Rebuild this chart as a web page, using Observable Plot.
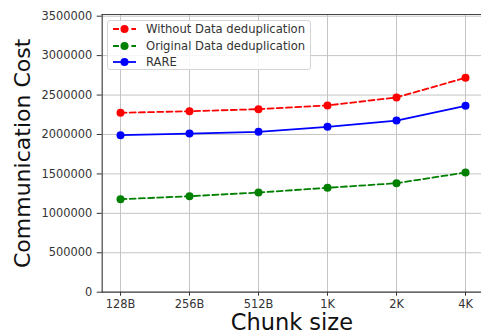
<!DOCTYPE html>
<html>
<head>
<meta charset="utf-8">
<script src="https://cdn.jsdelivr.net/npm/d3@7"></script>
<script src="https://cdn.jsdelivr.net/npm/@observablehq/plot@0.6"></script>
<style>
  html, body { margin: 0; padding: 0; background: #fff; }
  #wrap { position: relative; width: 481px; height: 334px; font-family: "DejaVu Sans", sans-serif; }
  #legend { position: absolute; left: 107px; top: 20px; width: 204px; height: 50px;
    background: rgba(255,255,255,0.85); border: 1px solid #d4d4d4; border-radius: 3px; box-sizing: border-box; }
  .row { position: absolute; left: 0; height: 16px; display: flex; align-items: center; }
  .row span { font-size: 11.6px; color: #333; margin-left: 8px; white-space: nowrap; }
</style>
</head>
<body>
<div id="wrap"></div>
<script>
const chunks = ["128B", "256B", "512B", "1K", "2K", "4K"];
const withoutDedup = [2275000, 2295000, 2321000, 2368000, 2470000, 2719000];
const originalDedup = [1179000, 1217000, 1264000, 1324000, 1382000, 1518000];
const rare = [1991000, 2012000, 2034000, 2097000, 2177000, 2364000];
const yTicks = [0, 500000, 1000000, 1500000, 2000000, 2500000, 3000000, 3500000];

const series = [
  {name: "Without Data deduplication", values: withoutDedup, color: "#ff0000", dash: "6,3.2"},
  {name: "Original Data deduplication", values: originalDedup, color: "#008000", dash: "6,3.2"},
  {name: "RARE", values: rare, color: "#0000ff", dash: null}
];

const rows = series.flatMap(s => chunks.map((c, i) => ({chunk: c, value: s.values[i], series: s.name})));

const marks = [
  Plot.gridX(chunks, {stroke: "#c4c4c4", strokeOpacity: 1, strokeWidth: 1}),
  Plot.gridY(yTicks, {stroke: "#c4c4c4", strokeOpacity: 1, strokeWidth: 1}),
  Plot.axisY({ticks: yTicks, tickFormat: d3.format("d"), tickSize: 5, tickPadding: 5, fontSize: 11.4, color: "#333", label: null}),
  Plot.axisX({tickSize: 4, tickPadding: 4, fontSize: 11.4, color: "#333", label: null}),
  Plot.frame({anchor: "top", stroke: "#444", strokeWidth: 1.2}),
  Plot.frame({anchor: "left", stroke: "#444", strokeWidth: 1.2}),
  Plot.frame({anchor: "bottom", stroke: "#444", strokeWidth: 1.2})
];
for (const s of series) {
  const d = rows.filter(r => r.series === s.name);
  marks.push(Plot.line(d, {x: "chunk", y: "value", stroke: s.color, strokeWidth: 1.8, strokeDasharray: s.dash}));
  marks.push(Plot.dot(d, {x: "chunk", y: "value", fill: s.color, r: 4}));
}
marks.push(Plot.text(["Communication Cost"], {frameAnchor: "left", dx: -72, rotate: -90, textAnchor: "middle", lineAnchor: "bottom", fontSize: 22, fill: "#111"}));
marks.push(Plot.text(["Chunk size"], {frameAnchor: "bottom", dy: 38, textAnchor: "middle", lineAnchor: "bottom", fontSize: 22.5, fill: "#111"}));

const chart = Plot.plot({
  width: 481,
  height: 334,
  marginLeft: 101.7,
  marginRight: 0,
  marginTop: 14,
  marginBottom: 42.3,
  style: {fontFamily: "DejaVu Sans", background: "#fff", overflow: "visible"},
  x: {type: "point", domain: chunks, range: [119, 466], padding: 0},
  y: {domain: [0, 3521500]},
  marks
});
const wrap = document.getElementById("wrap");
wrap.appendChild(chart);

const legend = document.createElement("div");
legend.id = "legend";
series.forEach((s, i) => {
  const row = document.createElement("div");
  row.className = "row";
  row.style.top = (0 + i * 16.5) + "px";
  const ns = "http://www.w3.org/2000/svg";
  const svg = document.createElementNS(ns, "svg");
  svg.setAttribute("width", "30"); svg.setAttribute("height", "16");
  const line = document.createElementNS(ns, "line");
  line.setAttribute("x1", "5"); line.setAttribute("x2", "28");
  line.setAttribute("y1", "8"); line.setAttribute("y2", "8");
  line.setAttribute("stroke", s.color); line.setAttribute("stroke-width", "1.8");
  if (s.dash) line.setAttribute("stroke-dasharray", s.dash);
  const c = document.createElementNS(ns, "circle");
  c.setAttribute("cx", "16.5"); c.setAttribute("cy", "8"); c.setAttribute("r", "4");
  c.setAttribute("fill", s.color);
  svg.appendChild(line); svg.appendChild(c);
  const t = document.createElement("span");
  t.textContent = s.name;
  row.appendChild(svg); row.appendChild(t);
  legend.appendChild(row);
});
wrap.appendChild(legend);
</script>
</body>
</html>
